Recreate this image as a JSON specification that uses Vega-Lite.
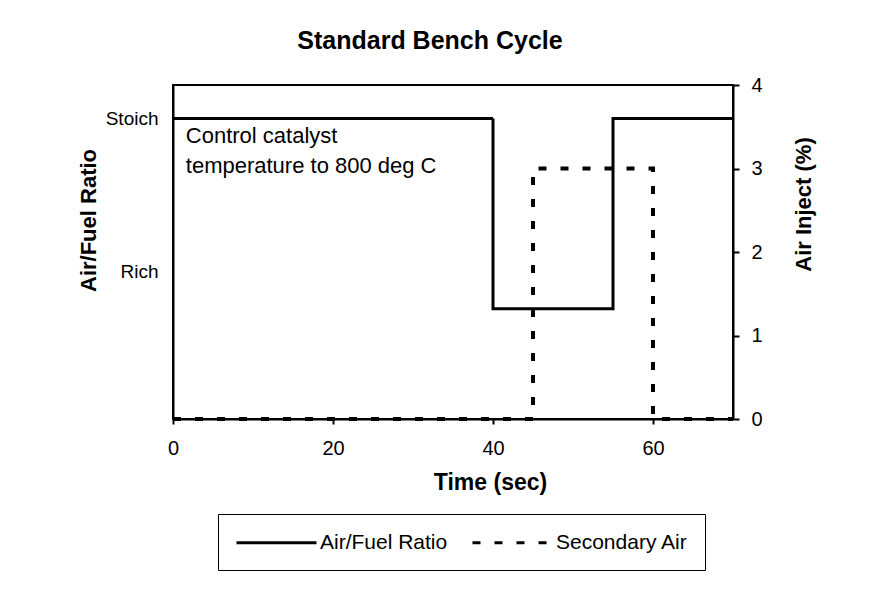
{
  "$schema": "https://vega.github.io/schema/vega-lite/v6.json",
  "width": 560,
  "height": 334,
  "autosize": {"type": "none"},
  "padding": {"left": 173, "top": 85, "right": 155, "bottom": 183},
  "background": "white",
  "title": {"text": "Standard Bench Cycle", "fontSize": 25, "font": "Liberation Sans", "fontWeight": "bold", "color": "black", "anchor": "middle", "dx": -23, "offset": 1, "baseline": "alphabetic"},
  "config": {
    "view": {"stroke": "black", "strokeWidth": 2},
    "font": "Liberation Sans",
    "axis": {"grid": false, "domainColor": "black", "domainWidth": 2, "tickColor": "black", "tickWidth": 2, "labelColor": "black", "titleColor": "black", "labelFont": "Liberation Sans", "titleFont": "Liberation Sans", "titleFontWeight": "bold"}
  },
  "layer": [
    {
      "data": {"values": [
        {"time": 0, "value": 3.6, "series": "Air/Fuel Ratio"},
        {"time": 40, "value": 1.32, "series": "Air/Fuel Ratio"},
        {"time": 55, "value": 3.6, "series": "Air/Fuel Ratio"},
        {"time": 70, "value": 3.6, "series": "Air/Fuel Ratio"}
      ]},
      "mark": {"type": "line", "interpolate": "step-after", "color": "black", "strokeWidth": 3, "strokeJoin": "miter"},
      "encoding": {
        "x": {"field": "time", "type": "quantitative", "scale": {"domain": [0, 70], "nice": false},
          "axis": {"values": [0, 20, 40, 60], "labelFlush": false, "tickSize": 5, "labelPadding": 14, "labelFontSize": 20, "title": "Time (sec)", "titleFontSize": 23, "titleX": 317, "titleY": 63, "titleBaseline": "middle", "titleAlign": "center"}},
        "y": {"field": "value", "type": "quantitative", "scale": {"domain": [0, 4], "nice": false},
          "axis": {"orient": "left", "values": [3.6, 1.77], "labelExpr": "datum.value > 3 ? 'Stoich' : 'Rich'", "ticks": false, "labelPadding": 15, "labelFontSize": 19, "title": "Air/Fuel Ratio", "titleFontSize": 22, "titleX": -85, "titleY": 135, "titleAngle": -90, "titleBaseline": "middle", "titleAlign": "center"}},
        "strokeDash": {"field": "series", "type": "nominal",
          "scale": {"domain": ["Air/Fuel Ratio", "Secondary Air"], "range": [[1, 0], [8, 14]]},
          "legend": {"title": null, "orient": "none", "legendX": 45, "legendY": 429, "direction": "horizontal", "strokeColor": "black", "padding": 17, "symbolType": "M-1,0H7", "symbolSize": 400, "symbolStrokeWidth": 3, "symbolStrokeColor": "black", "labelFontSize": 21, "labelOffset": 62, "columnPadding": 18, "labelColor": "black", "labelFont": "Liberation Sans"}}
      }
    },
    {
      "data": {"values": [
        {"time": 0, "value": 0, "series": "Secondary Air"},
        {"time": 45, "value": 3, "series": "Secondary Air"},
        {"time": 60, "value": 0, "series": "Secondary Air"},
        {"time": 70, "value": 0, "series": "Secondary Air"}
      ]},
      "mark": {"type": "line", "interpolate": "step-after", "color": "black", "strokeWidth": 4, "strokeJoin": "miter"},
      "encoding": {
        "x": {"field": "time", "type": "quantitative"},
        "y": {"field": "value", "type": "quantitative", "scale": {"domain": [0, 4], "nice": false},
          "axis": {"orient": "right", "values": [0, 1, 2, 3, 4], "tickSize": 6, "labelPadding": 12, "labelFontSize": 20, "title": "Air Inject (%)", "titleFontSize": 22, "titleX": 70, "titleY": 119, "titleAngle": -90, "titleBaseline": "middle", "titleAlign": "center"}},
        "strokeDash": {"field": "series", "type": "nominal"}
      }
    },
    {
      "data": {"values": [
        {"time": 1.6, "value": 3.305, "label": "Control catalyst"},
        {"time": 1.6, "value": 2.946, "label": "temperature to 800 deg C"}
      ]},
      "mark": {"type": "text", "align": "left", "baseline": "alphabetic", "fontSize": 22, "font": "Liberation Sans", "color": "black"},
      "encoding": {
        "x": {"field": "time", "type": "quantitative"},
        "y": {"field": "value", "type": "quantitative", "scale": {"domain": [0, 4], "nice": false}, "axis": null},
        "text": {"field": "label"}
      }
    }
  ],
  "resolve": {"scale": {"y": "independent"}}
}
